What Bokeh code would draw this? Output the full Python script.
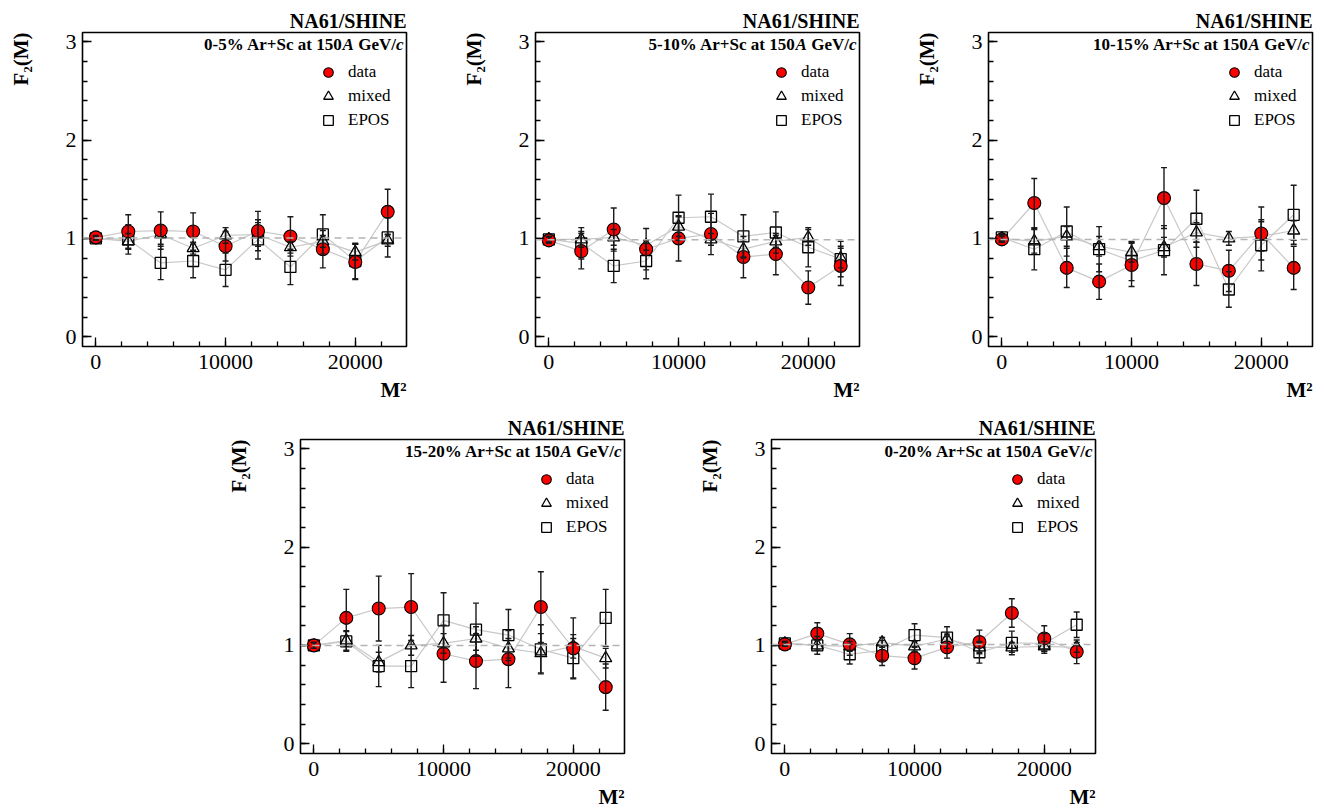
from bokeh.plotting import figure
from bokeh.models import (ColumnDataSource, Whisker, TeeHead, Span, Label, Legend, LegendItem,
                          SingleIntervalTicker, FixedTicker, LinearAxis, Range1d, Spacer, Title)
from bokeh.layouts import row, column
from bokeh.embed import file_html
from bokeh.resources import INLINE

# ---------------- data ----------------
M2 = [0, 2500, 5000, 7500, 10000, 12500, 15000, 17500, 20000, 22500]
centralities = ["0-5%", "5-10%", "10-15%", "15-20%", "0-20%"]
ref_level = [1.005, 0.985, 0.99, 1.0, 1.01]

data_0_5 = [1.01, 1.07, 1.08, 1.07, 0.92, 1.075, 1.02, 0.89, 0.76, 1.27]
data_err_0_5 = [0.02, 0.17, 0.19, 0.19, 0.15, 0.20, 0.20, 0.19, 0.18, 0.23]
mixed_0_5 = [1.0, 0.97, 1.04, 0.90, 1.03, 1.04, 0.91, 0.97, 0.86, 0.98]
mixed_err_0_5 = [0.02, 0.08, 0.10, 0.06, 0.08, 0.12, 0.06, 0.06, 0.08, 0.06]
epos_0_5 = [1.0, 0.99, 0.75, 0.77, 0.68, 0.99, 0.71, 1.04, 0.77, 1.01]
epos_err_0_5 = [0.02, 0.15, 0.17, 0.17, 0.17, 0.20, 0.18, 0.20, 0.18, 0.20]

data_5_10 = [0.98, 0.87, 1.09, 0.89, 1.0, 1.045, 0.81, 0.84, 0.50, 0.72]
data_err_5_10 = [0.03, 0.18, 0.22, 0.21, 0.23, 0.21, 0.21, 0.21, 0.17, 0.20]
mixed_5_10 = [0.99, 0.99, 1.01, 0.93, 1.12, 0.99, 0.89, 0.97, 1.01, 0.80]
mixed_err_5_10 = [0.03, 0.08, 0.08, 0.05, 0.10, 0.06, 0.08, 0.06, 0.08, 0.10]
epos_5_10 = [0.99, 0.95, 0.72, 0.77, 1.21, 1.22, 1.02, 1.06, 0.91, 0.79]
epos_err_5_10 = [0.03, 0.16, 0.17, 0.18, 0.23, 0.23, 0.22, 0.21, 0.20, 0.18]

data_10_15 = [0.99, 1.36, 0.70, 0.56, 0.73, 1.41, 0.74, 0.67, 1.05, 0.70]
data_err_10_15 = [0.03, 0.25, 0.20, 0.18, 0.22, 0.31, 0.22, 0.21, 0.27, 0.22]
mixed_10_15 = [1.0, 0.97, 1.02, 0.92, 0.86, 0.91, 1.06, 1.0, 1.02, 1.08]
mixed_err_10_15 = [0.03, 0.12, 0.10, 0.10, 0.10, 0.10, 0.10, 0.07, 0.15, 0.10]
epos_10_15 = [1.01, 0.89, 1.07, 0.89, 0.77, 0.88, 1.20, 0.48, 0.93, 1.24]
epos_err_10_15 = [0.03, 0.21, 0.25, 0.23, 0.20, 0.25, 0.29, 0.18, 0.26, 0.30]

data_15_20 = [1.0, 1.28, 1.375, 1.39, 0.915, 0.84, 0.86, 1.39, 0.97, 0.575]
data_err_15_20 = [0.03, 0.29, 0.33, 0.34, 0.29, 0.28, 0.29, 0.36, 0.31, 0.235]
mixed_15_20 = [1.0, 1.05, 0.83, 1.0, 1.02, 1.07, 0.97, 0.92, 0.99, 0.87]
mixed_err_15_20 = [0.03, 0.10, 0.10, 0.10, 0.10, 0.12, 0.10, 0.20, 0.12, 0.10]
epos_15_20 = [1.0, 1.04, 0.79, 0.79, 1.255, 1.16, 1.105, 0.96, 0.87, 1.28]
epos_err_15_20 = [0.03, 0.10, 0.21, 0.22, 0.28, 0.27, 0.26, 0.25, 0.20, 0.29]

data_0_20 = [1.01, 1.12, 1.01, 0.895, 0.87, 0.98, 1.035, 1.33, 1.07, 0.935]
data_err_0_20 = [0.02, 0.11, 0.11, 0.10, 0.11, 0.11, 0.12, 0.145, 0.13, 0.12]
mixed_0_20 = [1.02, 1.0, 0.99, 1.03, 0.99, 1.065, 0.98, 0.98, 0.99, 0.98]
mixed_err_0_20 = [0.02, 0.05, 0.05, 0.05, 0.05, 0.05, 0.05, 0.05, 0.05, 0.05]
epos_0_20 = [1.02, 1.0, 0.91, 0.95, 1.105, 1.08, 0.93, 1.025, 1.02, 1.21]
epos_err_0_20 = [0.02, 0.09, 0.10, 0.10, 0.115, 0.11, 0.11, 0.12, 0.10, 0.13]

panels = [
    (data_0_5, data_err_0_5, mixed_0_5, mixed_err_0_5, epos_0_5, epos_err_0_5),
    (data_5_10, data_err_5_10, mixed_5_10, mixed_err_5_10, epos_5_10, epos_err_5_10),
    (data_10_15, data_err_10_15, mixed_10_15, mixed_err_10_15, epos_10_15, epos_err_10_15),
    (data_15_20, data_err_15_20, mixed_15_20, mixed_err_15_20, epos_15_20, epos_err_15_20),
    (data_0_20, data_err_0_20, mixed_0_20, mixed_err_0_20, epos_0_20, epos_err_0_20),
]

# ---------------- styling ----------------
SERIF = "Liberation Serif"
FW, FH = 324, 314
X_LO, X_HI = -1030, 23950
M2_TITLE_POS = 22950   # where the right-aligned "M²" title sits along the x axis

# Times New Roman (bold / bold italic) advance widths, em units
W_BOLD = {'0': .5, '1': .5, '2': .5, '3': .5, '4': .5, '5': .5, '6': .5, '7': .5, '8': .5, '9': .5,
          '-': .333, '%': 1.0, ' ': .25, 'A': .722, 'r': .444, '+': .570, 'S': .556, 'c': .444,
          'a': .5, 't': .333, 'G': .778, 'e': .444, 'V': .722, '/': .278}
W_BI = {'A': .667, 'c': .444}


def text_width(s, style, size):
    tab = W_BI if style == "bold italic" else W_BOLD
    return sum(tab.get(ch, 0.5) for ch in s) * size


def make_panel(i, b_right, b_top, b_bottom):
    d, de, m, me, e, ee = panels[i]
    p = figure(frame_width=FW, frame_height=FH, x_range=Range1d(X_LO, X_HI),
               y_range=Range1d(-0.1, 3.095), output_backend="svg", toolbar_location=None,
               title=None, min_border_left=82, min_border_right=b_right,
               min_border_top=b_top, min_border_bottom=b_bottom)
    p.background_fill_color = "white"
    p.border_fill_color = "white"
    p.grid.visible = False
    p.outline_line_color = "black"
    p.outline_line_width = 1.6
    p.outline_line_alpha = 1

    p.xaxis.ticker = SingleIntervalTicker(interval=10000, num_minor_ticks=5)
    p.yaxis.ticker = SingleIntervalTicker(interval=1, num_minor_ticks=5)
    for ax in (p.xaxis, p.yaxis):
        ax.axis_line_color = None
        ax.major_tick_in = 9
        ax.major_tick_out = 0
        ax.minor_tick_in = 5
        ax.minor_tick_out = 0
        ax.major_tick_line_color = "black"
        ax.minor_tick_line_color = "black"
        ax.major_tick_line_width = 1.3
        ax.minor_tick_line_width = 1.3
        ax.major_label_text_font = SERIF
        ax.major_label_text_font_size = "22px"
        ax.major_label_text_color = "black"
    p.xaxis.major_label_standoff = 8
    p.yaxis.major_label_standoff = 6

    # "M²" as a right-aligned title below the x axis (second, label-only axis)
    m2_axis = LinearAxis(ticker=FixedTicker(ticks=[M2_TITLE_POS]),
                         major_label_overrides={M2_TITLE_POS: "M\u00b2"},
                         axis_line_color=None, major_tick_line_color=None,
                         minor_tick_line_color=None, major_label_standoff=0,
                         major_label_text_font=SERIF, major_label_text_font_style="bold",
                         major_label_text_font_size="21px", major_label_text_color="black")
    p.add_layout(m2_axis, "below")

    # reference line
    p.add_layout(Span(location=ref_level[i], dimension="width", line_color="#b4b4b4",
                      line_width=1.5, line_dash="7 5"))

    src_d = ColumnDataSource(dict(x=M2, y=d, lo=[a - b for a, b in zip(d, de)], hi=[a + b for a, b in zip(d, de)]))
    src_m = ColumnDataSource(dict(x=M2, y=m, lo=[a - b for a, b in zip(m, me)], hi=[a + b for a, b in zip(m, me)]))
    src_e = ColumnDataSource(dict(x=M2, y=e, lo=[a - b for a, b in zip(e, ee)], hi=[a + b for a, b in zip(e, ee)]))

    for src in (src_e, src_m, src_d):
        p.line("x", "y", source=src, line_color="#c8c8c8", line_width=1.2)
    for src in (src_e, src_m, src_d):
        p.add_layout(Whisker(base="x", lower="lo", upper="hi", source=src, line_color="#1a1a1a",
                             line_width=1.4,
                             lower_head=TeeHead(size=6, line_color="#1a1a1a", line_width=1.4),
                             upper_head=TeeHead(size=6, line_color="#1a1a1a", line_width=1.4),
                             level="glyph"))

    r_e = p.scatter("x", "y", source=src_e, marker="square", size=11, fill_color=None,
                    line_color="black", line_width=1.3)
    r_m = p.scatter("x", "y", source=src_m, marker="triangle", size=12, fill_color=None,
                    line_color="black", line_width=1.3)
    r_d = p.scatter("x", "y", source=src_d, marker="circle", size=13, fill_color="#ff0000",
                    line_color="black", line_width=1.1)

    legend = Legend(items=[LegendItem(label="data", renderers=[r_d]),
                           LegendItem(label="mixed", renderers=[r_m]),
                           LegendItem(label="EPOS", renderers=[r_e])],
                    location=(234, 214), padding=0, margin=0, spacing=0,
                    glyph_height=24, glyph_width=24, label_standoff=8,
                    label_text_font=SERIF, label_text_font_size="17px",
                    label_text_color="black",
                    label_text_baseline="middle", label_height=20,
                    background_fill_alpha=0, border_line_alpha=0)
    p.add_layout(legend)

    # experiment name above the frame
    p.add_layout(Title(text="NA61/SHINE", align="right", text_font=SERIF, text_font_style="bold",
                       text_font_size="20px", text_color="black", standoff=2, offset=0), "above")
    # y title: top aligned; blank second line pushes it away from the axis
    p.add_layout(Title(text="F\u2082(M)\n\u00a0", align="right", text_font=SERIF,
                       text_font_style="bold", text_font_size="21px", text_color="black",
                       standoff=11, offset=0), "left")

    # subtitle inside the frame with italic A and c
    size = 17
    sp = W_BOLD[' '] * size
    pieces = [(f"{centralities[i]} Ar+Sc at 150", "bold", 0.0), ("A", "bold italic", sp),
              ("GeV/", "bold", 0.0), ("c", "bold italic", 0.0)]
    xr = FW - 3
    for txt, style, gap_after in reversed(pieces):
        xr -= gap_after
        p.add_layout(Label(x=xr, y=FH - 12, x_units="screen", y_units="screen", text=txt,
                           text_align="right", text_baseline="alphabetic", text_font=SERIF,
                           text_font_style=style, text_font_size=f"{size}px", text_color="black"))
        xr -= text_width(txt, style, size)
    return p


f1 = make_panel(0, 47, 32, 54)
f2 = make_panel(1, 47, 32, 54)
f3 = make_panel(2, 13, 32, 54)
f4 = make_panel(3, 65, 35, 54)
f5 = make_panel(4, 47, 35, 54)

layout = column(row(f1, f2, f3), row(Spacer(width=218, height=400), f4, f5))

open("out.html", "w").write(file_html(layout, INLINE))
